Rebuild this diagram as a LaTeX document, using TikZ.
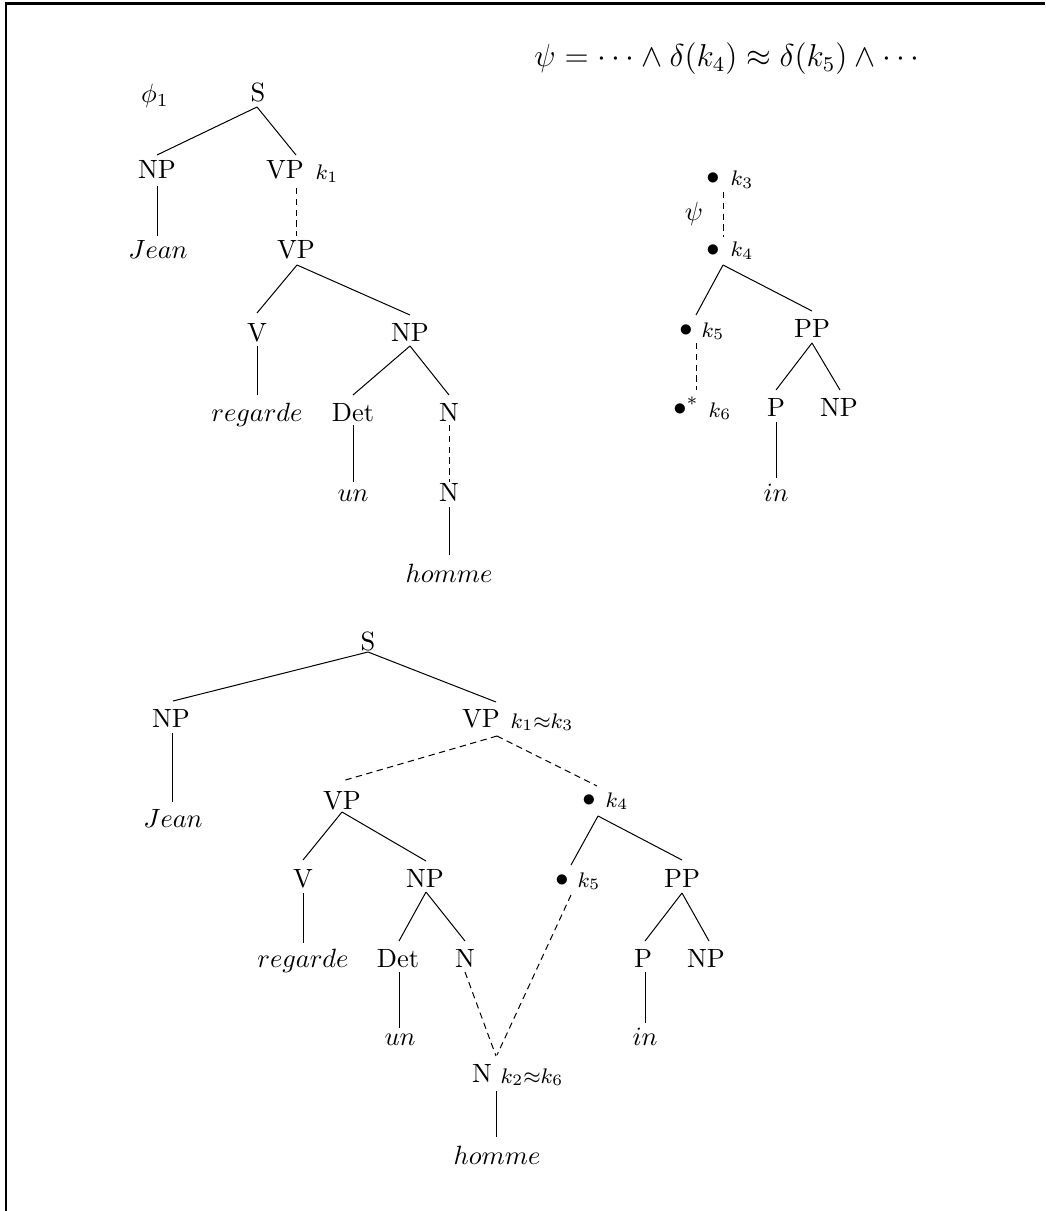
\documentclass[tikz,border=0pt]{standalone}
\begin{document}
\begin{tikzpicture}[x=0.3788pt,y=-0.3788pt,
  lab/.style={inner sep=0pt,outer sep=0pt,anchor=base},
  klab/.style={inner sep=0pt,outer sep=0pt,anchor=base,font=\footnotesize},
  edge/.style={line width=0.38pt},
  dedge/.style={line width=0.38pt,dash pattern=on 2.4pt off 1.7pt}]
\useasboundingbox (0,0) rectangle (1045,1211);
% frame
\draw[line width=0.9pt] (1045,3.5) -- (6,3.5) -- (6,1211);

% formula
\node[lab,font=\large] (psiform) at (727,67) {$\psi = \cdots \wedge \delta(k_4) \approx \delta(k_5) \wedge \cdots$};

% ---------- top left tree
\node[lab] (phi) at (155,103) {$\phi_1$};
\node[lab] (s1) at (258,102) {S};
\node[lab] (np1) at (157,179) {NP};
\node[lab] (vp1) at (285,179) {VP};
\node[klab] (k1) at (327,180) {$k_1$};
\node[lab] (jean1) at (158,259) {$Jean$};
\node[lab] (vp1b) at (296,259) {VP};
\node[lab] (v1) at (257,341) {V};
\node[lab] (np1b) at (410,341) {NP};
\node[lab] (reg1) at (257,421) {$regarde$};
\node[lab] (det1) at (353,421) {Det};
\node[lab] (n1) at (449,421) {N};
\node[lab] (un1) at (353,501) {$un$};
\node[lab] (n1b) at (449,501) {N};
\node[lab] (hom1) at (449,582) {$homme$};

\draw[edge] ([shift={(-1,5)}]s1.base) -- ([shift={(0,-24)}]np1.base);
\draw[edge] ([shift={(-1,5)}]s1.base) -- ([shift={(11,-24)}]vp1.base);
\draw[edge] ([shift={(0,7)}]np1.base) -- ([shift={(-1,-23)}]jean1.base);
\draw[dedge] ([shift={(11,9)}]vp1.base) -- ([shift={(0,-23)}]vp1b.base);
\draw[edge] ([shift={(1,6)}]vp1b.base) -- ([shift={(0,-28)}]v1.base);
\draw[edge] ([shift={(1,6)}]vp1b.base) -- ([shift={(0,-26)}]np1b.base);
\draw[edge] ([shift={(0,5)}]v1.base) -- ([shift={(0,-26)}]reg1.base);
\draw[edge] ([shift={(0,5)}]np1b.base) -- ([shift={(0,-26)}]det1.base);
\draw[edge] ([shift={(0,5)}]np1b.base) -- ([shift={(0,-26)}]n1.base);
\draw[edge] ([shift={(0,4)}]det1.base) -- ([shift={(0,-19)}]un1.base);
\draw[dedge] ([shift={(0,4)}]n1.base) -- ([shift={(0,-19)}]n1b.base);
\draw[edge] ([shift={(0,6)}]n1b.base) -- ([shift={(0,-27)}]hom1.base);

% ---------- top right tree
\node[lab] (b3) at (713,185) {$\bullet$};
\node[klab] (k3) at (742,186) {$k_3$};
\node[lab] (psi) at (694,221) {$\psi$};
\node[lab] (b4) at (713,256) {$\bullet$};
\node[klab] (k4) at (742,257) {$k_4$};
\node[lab] (b5) at (686,336) {$\bullet$};
\node[klab] (k5) at (713,337) {$k_5$};
\node[lab] (b6) at (686,415) {$\bullet^*$};
\node[klab] (k6) at (720,417) {$k_6$};
\node[lab] (pp1) at (812,337) {PP};
\node[lab] (p1) at (776,416) {P};
\node[lab] (np1c) at (839,416) {NP};
\node[lab] (in1) at (776,501) {$in$};

\draw[dedge] ([shift={(10,7)}]b3.base) -- ([shift={(10,-19)}]b4.base);
\draw[edge] ([shift={(10,9)}]b4.base) -- ([shift={(10,-21)}]b5.base);
\draw[edge] ([shift={(10,9)}]b4.base) -- ([shift={(0,-26)}]pp1.base);
\draw[dedge] ([shift={(10,7)}]b5.base) -- ([shift={(10,-25)}]b6.base);
\draw[edge] ([shift={(0,6)}]pp1.base) -- ([shift={(0,-26)}]p1.base);
\draw[edge] ([shift={(0,6)}]pp1.base) -- ([shift={(1,-26)}]np1c.base);
\draw[edge] ([shift={(0,6)}]p1.base) -- ([shift={(0,-23)}]in1.base);

% ---------- bottom tree
\node[lab] (s2) at (368,650) {S};
\node[lab] (np2) at (171,727) {NP};
\node[lab] (vp2) at (481,727) {VP};
\node[klab] (k13) at (542,728) {$k_1{\approx}k_3$};
\node[lab] (jean2) at (173,827) {$Jean$};
\node[lab] (vp3) at (342,809) {VP};
\node[lab] (b4b) at (589,806) {$\bullet$};
\node[klab] (k4b) at (617,807) {$k_4$};
\node[lab] (v2) at (303,887) {V};
\node[lab] (np3) at (425,887) {NP};
\node[lab] (b5b) at (562,886) {$\bullet$};
\node[klab] (k5b) at (589,887) {$k_5$};
\node[lab] (pp2) at (682,887) {PP};
\node[lab] (reg2) at (303,967) {$regarde$};
\node[lab] (det2) at (398,967) {Det};
\node[lab] (n2) at (465,967) {N};
\node[lab] (p2) at (643,967) {P};
\node[lab] (np4) at (706,967) {NP};
\node[lab] (un2) at (400,1045) {$un$};
\node[lab] (in2) at (645,1045) {$in$};
\node[lab] (n3) at (482,1082) {N};
\node[klab] (k26) at (532,1083) {$k_2{\approx}k_6$};
\node[lab] (hom2) at (497,1164) {$homme$};

\draw[edge] ([shift={(0,2)}]s2.base) -- ([shift={(2,-26)}]np2.base);
\draw[edge] ([shift={(0,2)}]s2.base) -- ([shift={(15,-25)}]vp2.base);
\draw[edge] ([shift={(1,6)}]np2.base) -- ([shift={(-1,-25)}]jean2.base);
\draw[dedge] ([shift={(16,9)}]vp2.base) -- ([shift={(0,-28)}]vp3.base);
\draw[dedge] ([shift={(16,9)}]vp2.base) -- ([shift={(8,-20)}]b4b.base);
\draw[edge] ([shift={(0,3)}]vp3.base) -- ([shift={(0,-27)}]v2.base);
\draw[edge] ([shift={(0,3)}]vp3.base) -- ([shift={(1,-26)}]np3.base);
\draw[edge] ([shift={(0,6)}]v2.base) -- ([shift={(0,-24)}]reg2.base);
\draw[edge] ([shift={(1,5)}]np3.base) -- ([shift={(1,-26)}]det2.base);
\draw[edge] ([shift={(1,5)}]np3.base) -- ([shift={(0,-26)}]n2.base);
\draw[edge] ([shift={(1,5)}]det2.base) -- ([shift={(-1,-17)}]un2.base);
\draw[dedge] ([shift={(0,5)}]n2.base) -- ([shift={(14,-26)}]n3.base);
\draw[edge] ([shift={(9,10)}]b4b.base) -- ([shift={(9,-21)}]b5b.base);
\draw[edge] ([shift={(9,10)}]b4b.base) -- ([shift={(0,-27)}]pp2.base);
\draw[dedge] ([shift={(9,9)}]b5b.base) -- ([shift={(15,-27)}]n3.base);
\draw[edge] ([shift={(0,6)}]pp2.base) -- ([shift={(2,-26)}]p2.base);
\draw[edge] ([shift={(0,6)}]pp2.base) -- ([shift={(3,-26)}]np4.base);
\draw[edge] ([shift={(2,5)}]p2.base) -- ([shift={(0,-22)}]in2.base);
\draw[edge] ([shift={(14,9)}]n3.base) -- ([shift={(-1,-27)}]hom2.base);
\end{tikzpicture}
\end{document}
